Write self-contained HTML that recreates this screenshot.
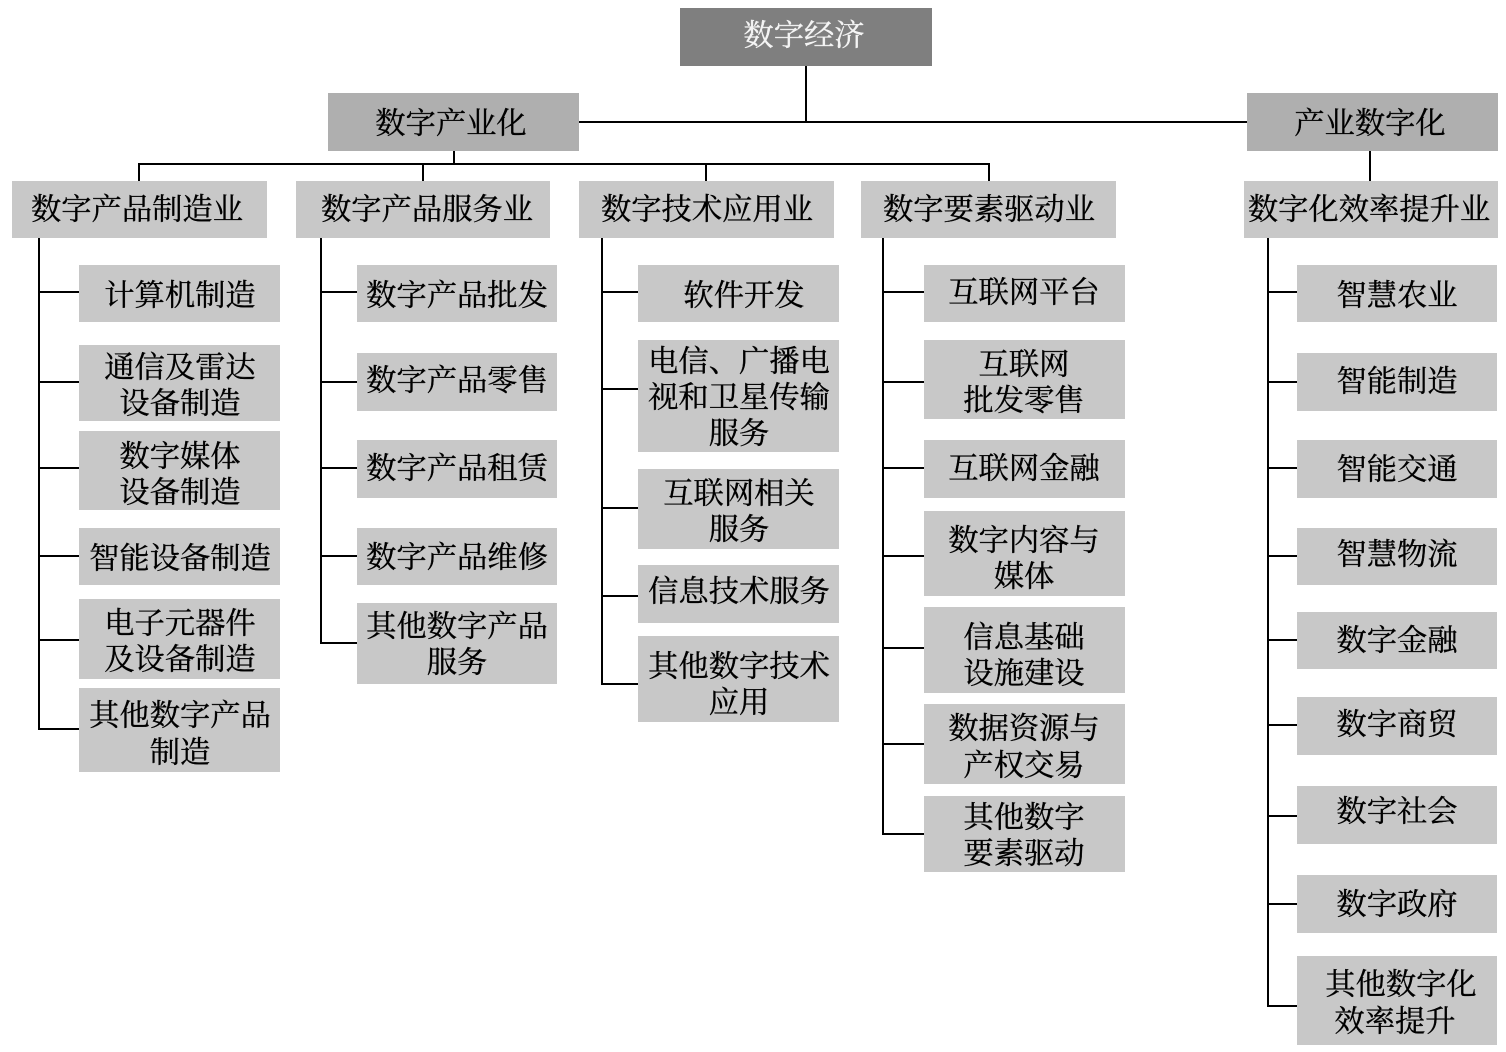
<!DOCTYPE html>
<html><head><meta charset="utf-8"><style>
html,body{margin:0;padding:0;background:#fff}
svg{display:block}
text{font-family:"Liberation Serif","Noto Serif CJK SC",serif;font-size:30.3px;text-anchor:middle;fill:#000;stroke:#000;stroke-width:.35px;transform:translateY(.5px)}
.b{fill:#c8c8c8}
line{stroke:#000;stroke-width:2}
</style></head><body>
<svg width="1506" height="1052" viewBox="0 0 1506 1052" xmlns="http://www.w3.org/2000/svg">
<g>
<line x1="806" y1="66" x2="806" y2="122"/><line x1="579" y1="122" x2="1247" y2="122"/>
<line x1="454" y1="151" x2="454" y2="164"/><line x1="139" y1="164" x2="989" y2="164"/>
<line x1="139" y1="163" x2="139" y2="181"/><line x1="423" y1="164" x2="423" y2="181"/><line x1="706" y1="164" x2="706" y2="181"/><line x1="989" y1="163" x2="989" y2="181"/>
<line x1="1370" y1="151" x2="1370" y2="181"/>
<line x1="39" y1="238" x2="39" y2="729"/>
<line x1="39" y1="292" x2="79" y2="292"/><line x1="39" y1="382" x2="79" y2="382"/><line x1="39" y1="468" x2="79" y2="468"/><line x1="39" y1="556" x2="79" y2="556"/><line x1="39" y1="640" x2="79" y2="640"/><line x1="38" y1="729" x2="79" y2="729"/>
<line x1="321" y1="238" x2="321" y2="643"/>
<line x1="321" y1="292" x2="357" y2="292"/><line x1="321" y1="382" x2="357" y2="382"/><line x1="321" y1="468" x2="357" y2="468"/><line x1="321" y1="556" x2="357" y2="556"/><line x1="320" y1="643" x2="357" y2="643"/>
<line x1="602" y1="238" x2="602" y2="684"/>
<line x1="602" y1="292" x2="638" y2="292"/><line x1="602" y1="389" x2="638" y2="389"/><line x1="602" y1="508" x2="638" y2="508"/><line x1="602" y1="596" x2="638" y2="596"/><line x1="601" y1="684" x2="638" y2="684"/>
<line x1="883" y1="238" x2="883" y2="834"/>
<line x1="883" y1="292" x2="924" y2="292"/><line x1="883" y1="382" x2="924" y2="382"/><line x1="883" y1="468" x2="924" y2="468"/><line x1="883" y1="556" x2="924" y2="556"/><line x1="883" y1="648" x2="924" y2="648"/><line x1="883" y1="744" x2="924" y2="744"/><line x1="882" y1="834" x2="924" y2="834"/>
<line x1="1268" y1="238" x2="1268" y2="1006"/>
<line x1="1268" y1="292" x2="1297" y2="292"/><line x1="1268" y1="382" x2="1297" y2="382"/><line x1="1268" y1="468" x2="1297" y2="468"/><line x1="1268" y1="556" x2="1297" y2="556"/><line x1="1268" y1="640" x2="1297" y2="640"/><line x1="1268" y1="725" x2="1297" y2="725"/><line x1="1268" y1="816" x2="1297" y2="816"/><line x1="1268" y1="904" x2="1297" y2="904"/><line x1="1267" y1="1006" x2="1297" y2="1006"/>
</g>
<rect x="680" y="8" width="252" height="58" fill="#7f7f7f"/>
<text x="804" y="45" style="fill:#f4f4f4;stroke:#f4f4f4">数字经济</text>
<rect x="328" y="93" width="251" height="58" fill="#afafaf"/><text x="451" y="133">数字产业化</text>
<rect x="1247" y="93" width="251" height="58" fill="#afafaf"/><text x="1370" y="133">产业数字化</text>

<rect class="b" x="12" y="181" width="255" height="57"/><text x="137" y="219">数字产品制造业</text>
<rect class="b" x="296" y="181" width="254" height="57"/><text x="427" y="219">数字产品服务业</text>
<rect class="b" x="579" y="181" width="255" height="57"/><text x="707" y="219">数字技术应用业</text>
<rect class="b" x="861" y="181" width="255" height="57"/><text x="989" y="219">数字要素驱动业</text>
<rect class="b" x="1244" y="181" width="254" height="57"/><text x="1369" y="219">数字化效率提升业</text>

<rect class="b" x="79" y="265" width="201" height="57"/><text x="180" y="305">计算机制造</text>
<rect class="b" x="79" y="345" width="201" height="76"/><text x="180" y="377">通信及雷达</text><text x="180" y="413">设备制造</text>
<rect class="b" x="79" y="431" width="201" height="79"/><text x="180" y="466">数字媒体</text><text x="180" y="502">设备制造</text>
<rect class="b" x="79" y="528" width="201" height="57"/><text x="180" y="568">智能设备制造</text>
<rect class="b" x="79" y="599" width="201" height="80"/><text x="180" y="633">电子元器件</text><text x="180" y="669">及设备制造</text>
<rect class="b" x="79" y="688" width="201" height="84"/><text x="180" y="725">其他数字产品</text><text x="180" y="762">制造</text>

<rect class="b" x="357" y="265" width="200" height="57"/><text x="457" y="305">数字产品批发</text>
<rect class="b" x="357" y="353" width="200" height="58"/><text x="457" y="390">数字产品零售</text>
<rect class="b" x="357" y="440" width="200" height="58"/><text x="457" y="478">数字产品租赁</text>
<rect class="b" x="357" y="528" width="200" height="57"/><text x="457" y="567">数字产品维修</text>
<rect class="b" x="357" y="603" width="200" height="81"/><text x="457" y="636">其他数字产品</text><text x="457" y="672">服务</text>

<rect class="b" x="638" y="265" width="201" height="57"/><text x="744" y="305">软件开发</text>
<rect class="b" x="638" y="340" width="201" height="112"/><text x="739" y="371">电信、广播电</text><text x="739" y="407">视和卫星传输</text><text x="739" y="443">服务</text>
<rect class="b" x="638" y="469" width="201" height="80"/><text x="739" y="503">互联网相关</text><text x="739" y="539">服务</text>
<rect class="b" x="638" y="565" width="201" height="58"/><text x="739" y="601">信息技术服务</text>
<rect class="b" x="638" y="636" width="201" height="86"/><text x="739" y="676">其他数字技术</text><text x="739" y="712">应用</text>

<rect class="b" x="924" y="265" width="201" height="57"/><text x="1024" y="302">互联网平台</text>
<rect class="b" x="924" y="340" width="201" height="79"/><text x="1024" y="374">互联网</text><text x="1024" y="410">批发零售</text>
<rect class="b" x="924" y="440" width="201" height="58"/><text x="1024" y="478">互联网金融</text>
<rect class="b" x="924" y="511" width="201" height="85"/><text x="1024" y="550">数字内容与</text><text x="1024" y="586">媒体</text>
<rect class="b" x="924" y="607" width="201" height="86"/><text x="1024" y="647">信息基础</text><text x="1024" y="683">设施建设</text>
<rect class="b" x="924" y="704" width="201" height="80"/><text x="1024" y="738">数据资源与</text><text x="1024" y="775">产权交易</text>
<rect class="b" x="924" y="796" width="201" height="76"/><text x="1024" y="827">其他数字</text><text x="1024" y="863">要素驱动</text>

<rect class="b" x="1297" y="265" width="200" height="57"/><text x="1397" y="305">智慧农业</text>
<rect class="b" x="1297" y="353" width="200" height="58"/><text x="1397" y="391">智能制造</text>
<rect class="b" x="1297" y="440" width="200" height="58"/><text x="1397" y="479">智能交通</text>
<rect class="b" x="1297" y="528" width="200" height="57"/><text x="1397" y="564">智慧物流</text>
<rect class="b" x="1297" y="612" width="200" height="57"/><text x="1397" y="650">数字金融</text>
<rect class="b" x="1297" y="697" width="200" height="58"/><text x="1397" y="734">数字商贸</text>
<rect class="b" x="1297" y="786" width="200" height="58"/><text x="1397" y="821">数字社会</text>
<rect class="b" x="1297" y="875" width="200" height="58"/><text x="1397" y="914">数字政府</text>
<rect class="b" x="1297" y="956" width="200" height="89"/><text x="1401" y="994">其他数字化</text><text x="1395" y="1031">效率提升</text>
</svg>
</body></html>
